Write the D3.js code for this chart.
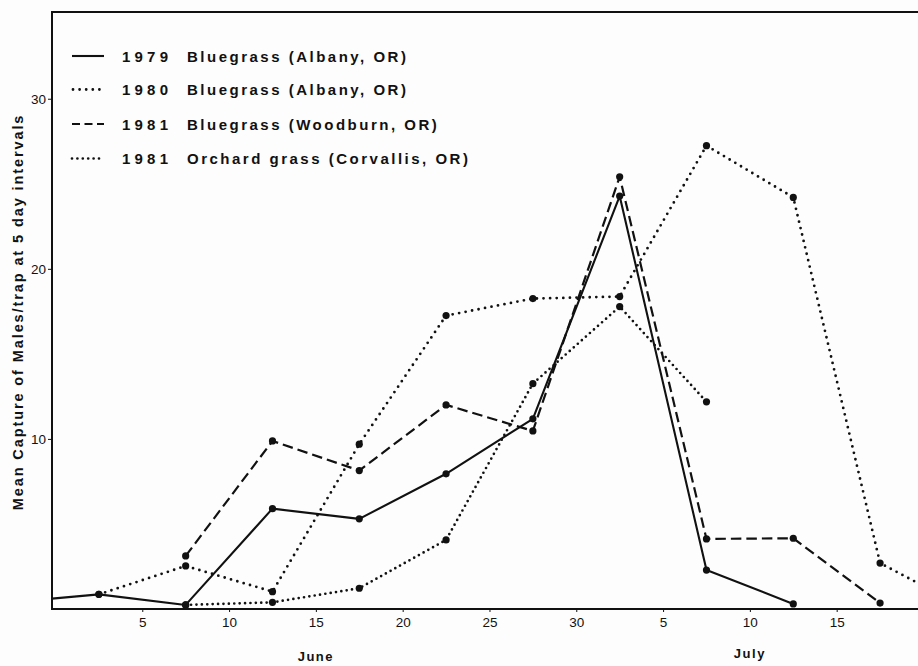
<!DOCTYPE html>
<html>
<head>
<meta charset="utf-8">
<script src="https://cdn.jsdelivr.net/npm/d3@7/dist/d3.min.js"></script>
<style>
  html, body { margin: 0; padding: 0; background: #fdfdfd; }
  svg { display: block; }
  text { font-family: "Liberation Sans", Arial, Helvetica, sans-serif; fill: #111; }
</style>
</head>
<body>
<svg id="chart" width="918" height="666"></svg>
<script>
// Sampling dates: days counted from 31 May (June 1 = day 1, July 1 = day 31)
const days1979 = [-2.5, 2.5, 7.5, 12.5, 17.5, 22.5, 27.5, 32.5, 37.5, 42.5];
const capture1979 = [0.4, 0.86, 0.24, 5.9, 5.3, 7.95, 11.18, 24.28, 2.29, 0.3];

const days1980 = [2.5, 7.5, 12.5, 17.5, 22.5, 27.5, 32.5, 37.5, 42.5, 47.5, 52.5];
const capture1980 = [0.86, 2.53, 1.02, 9.69, 17.25, 18.25, 18.37, 27.24, 24.2, 2.7, 0];

const days1981Woodburn = [7.5, 12.5, 17.5, 22.5, 27.5, 32.5, 37.5, 42.5, 47.5];
const capture1981Woodburn = [3.12, 9.88, 8.14, 12.0, 10.47, 25.41, 4.12, 4.16, 0.35];

const days1981Orchard = [7.5, 12.5, 17.5, 22.5, 27.5, 32.5, 37.5];
const capture1981Orchard = [0.24, 0.39, 1.22, 4.06, 13.25, 17.78, 12.18];

const legendYears = ["1979", "1980", "1981", "1981"];
const legendNames = ["Bluegrass (Albany, OR)", "Bluegrass (Albany, OR)",
                     "Bluegrass (Woodburn, OR)", "Orchard grass (Corvallis, OR)"];

const xTickDays = [5, 10, 15, 20, 25, 30, 35, 40, 45];
const xTickLabels = ["5", "10", "15", "20", "25", "30", "5", "10", "15"];
const yTickValues = [10, 20, 30];
const monthLabels = ["June", "July"];
const monthCenters = [15, 40];

const yTitle = "Mean Capture of Males/trap at 5 day intervals";

// line styles for the four series
const styles = [
  { dash: null, width: 2.1, cap: "butt" },
  { dash: "0,6.6", width: 2.8, cap: "round" },
  { dash: "10.5,5", width: 2.2, cap: "butt" },
  { dash: "0,5.4", width: 2.7, cap: "round" }
];

const series = [
  { days: days1979, values: capture1979 },
  { days: days1980, values: capture1980 },
  { days: days1981Woodburn, values: capture1981Woodburn },
  { days: days1981Orchard, values: capture1981Orchard }
];

const svg = d3.select("#chart");
const plotLeft = 52, plotTop = 12, plotBottom = 609, plotRight = 918;

const x = d3.scaleLinear().domain([-0.2, 50]).range([plotLeft, plotLeft + 50.2 * 17.36]);
const y = d3.scaleLinear().domain([0, 35.1]).range([plotBottom, plotTop]);

svg.append("defs").append("clipPath").attr("id", "plotClip")
  .append("rect").attr("x", plotLeft).attr("y", 0)
  .attr("width", plotRight - plotLeft + 10).attr("height", 666);

const plot = svg.append("g").attr("clip-path", "url(#plotClip)");

const line = d3.line().x(d => x(d[0])).y(d => y(d[1]));

series.forEach((s, i) => {
  const pts = s.days.map((d, j) => [d, s.values[j]]);
  const st = styles[i];
  plot.append("path")
    .attr("d", line(pts))
    .attr("fill", "none")
    .attr("stroke", "#111")
    .attr("stroke-width", st.width)
    .attr("stroke-linecap", st.cap)
    .attr("stroke-linejoin", "round")
    .attr("stroke-dasharray", st.dash);
  plot.selectAll(null).data(pts).enter().append("circle")
    .attr("cx", d => x(d[0]))
    .attr("cy", d => y(d[1]))
    .attr("r", 3.6)
    .attr("fill", "#111");
});

// frame: left axis, top border
svg.append("line").attr("x1", plotLeft).attr("x2", plotLeft)
  .attr("y1", plotTop).attr("y2", plotBottom + 1)
  .attr("stroke", "#111").attr("stroke-width", 2);
svg.append("line").attr("x1", plotLeft - 1).attr("x2", plotRight)
  .attr("y1", plotTop).attr("y2", plotTop)
  .attr("stroke", "#111").attr("stroke-width", 2);

// x axis
const xAxis = d3.axisBottom(x)
  .tickValues(xTickDays)
  .tickFormat((d, i) => xTickLabels[i])
  .tickSize(3)
  .tickPadding(5);
const gx = svg.append("g").attr("transform", `translate(0,${plotBottom})`).call(xAxis);
gx.select(".domain").remove();
gx.append("line").attr("x1", plotLeft - 1).attr("x2", plotRight).attr("y1", 0).attr("y2", 0)
  .attr("stroke", "#111").attr("stroke-width", 2.2);
gx.selectAll(".tick line").attr("stroke", "#111").attr("stroke-width", 1);
gx.selectAll(".tick text")
  .attr("font-size", 13.5).attr("fill", "#111")
  .style("font-family", '"Liberation Sans", Arial, sans-serif');

// y axis
const yAxis = d3.axisLeft(y).tickValues(yTickValues).tickSize(4).tickPadding(2);
const gy = svg.append("g").attr("transform", `translate(${plotLeft},0)`).call(yAxis);
gy.select(".domain").remove();
gy.selectAll(".tick line").attr("stroke", "#111").attr("stroke-width", 1);
gy.selectAll(".tick text")
  .attr("font-size", 13.5).attr("fill", "#111")
  .style("font-family", '"Liberation Sans", Arial, sans-serif');

// month labels
svg.selectAll(".month").data(monthLabels).enter().append("text")
  .attr("class", "month")
  .attr("x", (d, i) => x(monthCenters[i]))
  .attr("y", (d, i) => i === 0 ? 661 : 658)
  .attr("text-anchor", "middle")
  .attr("font-size", 13).attr("font-weight", "bold")
  .attr("letter-spacing", 1.5)
  .text(d => d);

// y axis title
svg.append("text")
  .attr("transform", "translate(23,312) rotate(-90)")
  .attr("text-anchor", "middle")
  .attr("font-size", 14.5).attr("font-weight", "bold")
  .attr("letter-spacing", 1.9)
  .text(yTitle);

// legend
const legendRows = [56, 89.5, 124, 158.5];
const legend = svg.append("g");
legendYears.forEach((yr, i) => {
  const st = styles[i];
  const ly = legendRows[i];
  legend.append("line")
    .attr("x1", i === 1 ? 73 : 72).attr("x2", i === 1 ? 101 : 104)
    .attr("y1", ly).attr("y2", ly)
    .attr("stroke", "#111")
    .attr("stroke-width", st.width)
    .attr("stroke-linecap", st.cap)
    .attr("stroke-dasharray", i === 2 ? "8,4.5" : st.dash);
  legend.append("text")
    .attr("x", 122).attr("y", ly + 5.5)
    .attr("font-size", 15).attr("font-weight", "bold")
    .attr("letter-spacing", 4.2)
    .text(yr);
  legend.append("text")
    .attr("x", 187).attr("y", ly + 5.5)
    .attr("font-size", 15).attr("font-weight", "bold")
    .attr("letter-spacing", 2.5)
    .text(legendNames[i]);
});
</script>
</body>
</html>
